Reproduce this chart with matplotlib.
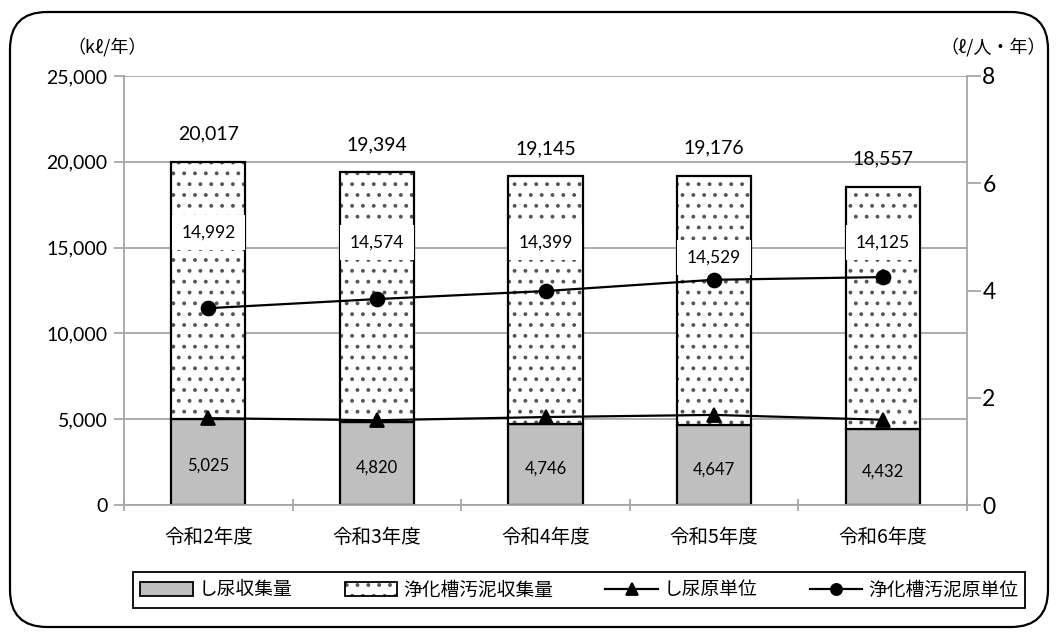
import matplotlib
matplotlib.use("Agg")
import matplotlib.pyplot as plt
from matplotlib.patches import FancyBboxPatch, Patch
from matplotlib.lines import Line2D
from matplotlib.legend_handler import HandlerBase
from matplotlib.patches import Rectangle

DPI = 130
S = 100 / DPI  # keep sizes as designed for 100 dpi

plt.rcParams['font.family'] = ['Lato', 'Noto Sans CJK JP', 'DejaVu Sans']
plt.rcParams['hatch.linewidth'] = 1.2 * S

categories = ['令和2年度', '令和3年度', '令和4年度', '令和5年度', '令和6年度']
shinyo = [5025, 4820, 4746, 4647, 4432]          # し尿収集量
jokaso = [14992, 14574, 14399, 14529, 14125]     # 浄化槽汚泥収集量
totals = [20017, 19394, 19145, 19176, 18557]
shinyo_unit = [1.62, 1.58, 1.64, 1.68, 1.59]     # し尿原単位
jokaso_unit = [3.67, 3.84, 3.99, 4.20, 4.25]     # 浄化槽汚泥原単位
left_ticks = [0, 5000, 10000, 15000, 20000, 25000]
right_ticks = [0, 2, 4, 6, 8]
jokaso_label_y = [15900, 15300, 15300, 14400, 15300]  # label placement (layout)

W, H = 1060, 639
fig = plt.figure(figsize=(W / DPI, H / DPI), dpi=DPI)
ax = fig.add_axes([124 / W, 1 - 505 / H, (967 - 124) / W, (505 - 76) / H])

x = list(range(len(categories)))
bw = 0.44
gray = '#bfbfbf'
grid_c = '#a6a6a6'
dot_c = '#555555'

ax.set_axisbelow(True)
ax.bar(x, shinyo, bw, color=gray, edgecolor='black', linewidth=1.6 * S, zorder=2)
ax.bar(x, jokaso, bw, bottom=shinyo, color='white', edgecolor=dot_c,
       hatch='..', linewidth=0, zorder=2)
ax.bar(x, jokaso, bw, bottom=shinyo, fill=False, edgecolor='black',
       linewidth=1.6 * S, zorder=2.1)

ax.set_ylim(0, 25000)
ax.set_xlim(-0.5, len(categories) - 0.5)
ax.set_yticks(left_ticks)
ax.set_yticklabels([f'{v:,}' for v in left_ticks], fontsize=14 * S)
ax.yaxis.grid(True, color=grid_c, linewidth=1.3 * S)
ax.tick_params(axis='y', length=7 * S, color=grid_c, width=1.3 * S, pad=5 * S)
ax.set_xticks(x)
ax.set_xticklabels(categories, fontsize=14 * S, family=['Noto Sans CJK JP'])
ax.set_xticks([i + 0.5 for i in x[:-1]] + [-0.5, len(categories) - 0.5], minor=True)
ax.tick_params(axis='x', which='major', length=0, pad=16 * S)
ax.tick_params(axis='x', which='minor', length=8 * S, direction='inout', color=grid_c, width=1.3 * S)
for s in ['left', 'right', 'bottom']:
    ax.spines[s].set_color(grid_c)
    ax.spines[s].set_linewidth(1.3 * S)
ax.spines['top'].set_visible(False)

# data labels
for i in x:
    ax.annotate(f'{totals[i]:,}', (i, totals[i]), xytext=(0, 20 * S), textcoords='offset points',
                ha='center', va='center', fontsize=14 * S)
    ax.annotate(f'{jokaso[i]:,}', (i, jokaso_label_y[i]), ha='center', va='center', fontsize=12.5 * S,
                bbox=dict(boxstyle='square,pad=0.55', fc='white', ec='none'), zorder=4)
    ax.annotate(f'{shinyo[i]:,}', (i, shinyo[i] / 2), xytext=(0, -3 * S), textcoords='offset points',
                ha='center', va='center', fontsize=12 * S, zorder=4)

ax2 = ax.twinx()
ax2.set_ylim(0, 8)
ax2.set_yticks(right_ticks)
ax2.set_yticklabels([str(v) for v in right_ticks], fontsize=16.5 * S)
ax2.tick_params(axis='y', length=10 * S, color=grid_c, width=1.3 * S, pad=1 * S)
for s in ['left', 'right', 'bottom', 'top']:
    ax2.spines[s].set_visible(False)
ax2.plot(x, shinyo_unit, color='black', linewidth=1.6 * S, marker='^', markersize=10 * S, zorder=5)
ax2.plot(x, jokaso_unit, color='black', linewidth=1.6 * S, marker='o', markersize=10 * S, zorder=5)

# unit labels
fig.text(107 / W, 1 - 47 / H, '（kℓ/年）', ha='center', va='center', fontsize=13 * S,
         family=['Noto Sans CJK JP'])
fig.text(993 / W, 1 - 47 / H, '（ℓ/人・年）', ha='center', va='center', fontsize=13 * S,
         family=['Noto Sans CJK JP'])


class DottedHandler(HandlerBase):
    def create_artists(self, legend, orig_handle, xdescent, ydescent, width, height, fontsize, trans):
        r1 = Rectangle((-xdescent, -ydescent), width, height, facecolor='white',
                       edgecolor=dot_c, hatch='..', linewidth=0, transform=trans)
        r2 = Rectangle((-xdescent, -ydescent), width, height, fill=False,
                       edgecolor='black', linewidth=1.3 * S, transform=trans)
        return [r1, r2]


# legend
dotted = Patch(facecolor='white', edgecolor='black')
handles = [
    Patch(facecolor=gray, edgecolor='black', linewidth=1.3 * S),
    dotted,
    Line2D([], [], color='black', linewidth=1.6 * S, marker='^', markersize=9 * S),
    Line2D([], [], color='black', linewidth=1.6 * S, marker='o', markersize=8 * S),
]
labels = ['し尿収集量', '浄化槽汚泥収集量', 'し尿原単位', '浄化槽汚泥原単位']
leg = fig.legend(handles, labels, loc='center', bbox_to_anchor=(579 / W, 1 - 590 / H),
                 ncol=4, frameon=True, fancybox=False, edgecolor='black', framealpha=1,
                 prop={'family': 'Noto Sans CJK JP', 'size': 13.5 * S}, handlelength=2.8,
                 handleheight=0.8, columnspacing=2.8, handletextpad=0.3,
                 borderpad=0.4, borderaxespad=0, handler_map={dotted: DottedHandler()})
leg.get_frame().set_linewidth(1.3 * S)

# outer rounded border
border = FancyBboxPatch((10 / W, 12 / H), (1048 - 10) / W, (627 - 12) / H,
                        boxstyle='round,pad=0,rounding_size=0.035', transform=fig.transFigure,
                        fill=False, edgecolor='black', linewidth=1.6 * S, mutation_aspect=W / H)
fig.patches.append(border)

fig.savefig('out.png', dpi=DPI)
